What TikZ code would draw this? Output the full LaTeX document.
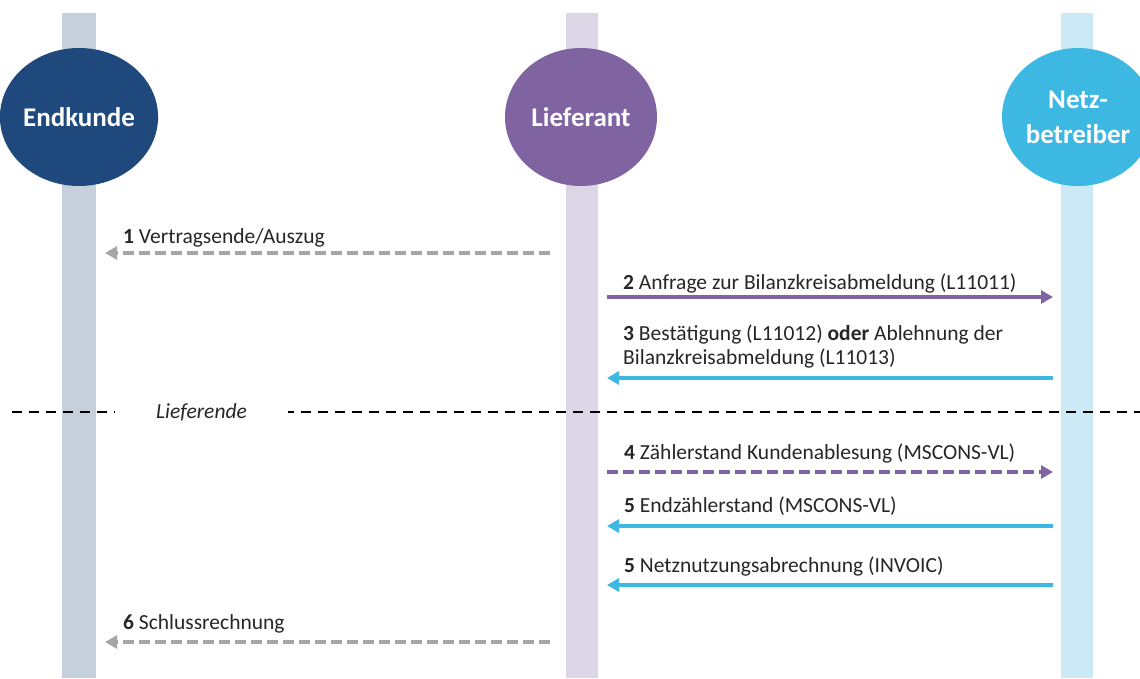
\documentclass[tikz,border=0pt]{standalone}
\usepackage{fontspec}
\setmainfont{Carlito}
\usetikzlibrary{arrows.meta,shapes.geometric}

\definecolor{kundeblau}{HTML}{1F497D}
\definecolor{kundebalken}{HTML}{C5D0DC}
\definecolor{lieflila}{HTML}{8064A2}
\definecolor{liefbalken}{HTML}{DCD6E6}
\definecolor{netzcyan}{HTML}{3DB8E3}
\definecolor{netzbalken}{HTML}{CCEAF6}
\definecolor{pfeilgrau}{HTML}{A6A6A6}

\tikzset{
  akteur/.style={ellipse, minimum width=152pt, minimum height=138pt, inner sep=0pt,
    text=white, font=\fontsize{27}{35}\selectfont\bfseries, align=center},
  msg/.style={line width=4pt, -{Triangle[length=12pt,width=13pt]}},
  gestrichelt/.style={dash pattern=on 11pt off 5pt},
  lbl/.style={anchor=base west, inner sep=0pt, font=\fontsize{21.5}{24}\selectfont,
    text=black!85, align=left},
}

\begin{document}
\begin{tikzpicture}[x=1pt,y=-1pt]
  \useasboundingbox (0,0) rectangle (1140,678);

  % Lebenslinien
  \fill[kundebalken] (62,12.5) rectangle (96,678);
  \fill[liefbalken] (566,12.5) rectangle (598,678);
  \fill[netzbalken] (1061,12.5) rectangle (1093,678);

  \node[akteur, fill=kundeblau] (ek) at (79,117) {Endkunde};
  \node[akteur, fill=lieflila] (lf) at (581,117) {Lieferant};
  \node[akteur, fill=netzcyan] (nb) at (1078,117) {Netz-\\betreiber};

  % Endpunkte der Nachrichten
  \coordinate (ek1) at (105,253);  \coordinate (lf1) at (550,253);
  \coordinate (lf2) at (607,297);  \coordinate (nb2) at (1053,297);
  \coordinate (lf3) at (607,378);  \coordinate (nb3) at (1053,378);
  \coordinate (lf4) at (607,472);  \coordinate (nb4) at (1053,472);
  \coordinate (lf5) at (607,526);  \coordinate (nb5) at (1053,526);
  \coordinate (lf6) at (607,585);  \coordinate (nb6) at (1053,585);
  \coordinate (ek7) at (105,642);  \coordinate (lf7) at (550,642);

  \draw[msg, pfeilgrau, gestrichelt] (lf1) -- (ek1);
  \draw[msg, lieflila] (lf2) -- (nb2);
  \draw[msg, netzcyan] (nb3) -- (lf3);
  \draw[msg, lieflila, gestrichelt] (lf4) -- (nb4);
  \draw[msg, netzcyan] (nb5) -- (lf5);
  \draw[msg, netzcyan] (nb6) -- (lf6);
  \draw[msg, pfeilgrau, gestrichelt] (lf7) -- (ek7);

  \node[lbl] (m1) at (123,243) {\textbf{1} Vertragsende/Auszug};
  \node[lbl] (m2) at (623,289) {\textbf{2} Anfrage zur Bilanzkreisabmeldung (L11011)};
  \node[lbl] (m3) at (623,364) {\textbf{3} Bestätigung (L11012) \textbf{oder} Ablehnung der\\Bilanzkreisabmeldung (L11013)};
  \node[lbl] (m4) at (624,459) {\textbf{4} Zählerstand Kundenablesung (MSCONS-VL)};
  \node[lbl] (m5) at (624,512) {\textbf{5} Endzählerstand (MSCONS-VL)};
  \node[lbl] (m6) at (624,572) {\textbf{5} Netznutzungsabrechnung (INVOIC)};
  \node[lbl] (m7) at (123,629) {\textbf{6} Schlussrechnung};

  % Lieferende
  \coordinate (le0) at (12,412);  \coordinate (le1) at (1140,412);
  \draw[line width=2pt, dash pattern=on 10pt off 7pt] (le0) -- (le1);
  \node[fill=white, minimum width=173pt, minimum height=20pt, inner sep=0pt,
    font=\fontsize{21.5}{24}\selectfont\itshape, text=black!85] (le) at (201.5,412) {Lieferende};
\end{tikzpicture}
\end{document}
